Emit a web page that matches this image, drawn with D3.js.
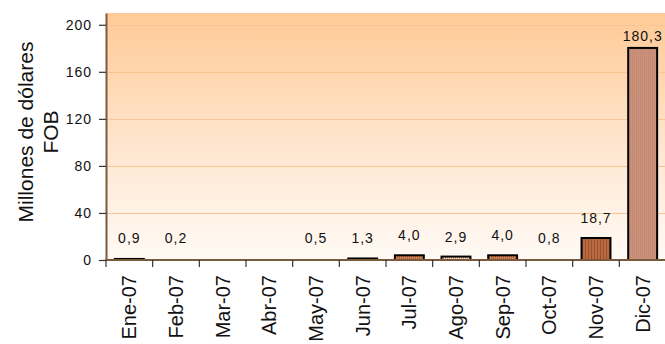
<!DOCTYPE html>
<html>
<head>
<meta charset="utf-8">
<script src="https://cdn.jsdelivr.net/npm/d3@7"></script>
<style>
  html, body { margin: 0; padding: 0; background: #fff; }
  svg { display: block; font-family: "Liberation Sans", Arial, sans-serif; }
</style>
</head>
<body>
<div id="chart"></div>
<script>
// Exportaciones mensuales 2007 (millones de dólares FOB)
const months = ['Ene-07', 'Feb-07', 'Mar-07', 'Abr-07', 'May-07', 'Jun-07',
                'Jul-07', 'Ago-07', 'Sep-07', 'Oct-07', 'Nov-07', 'Dic-07'];
const values = [0.9, 0.2, null, null, 0.5, 1.3, 4.0, 2.9, 4.0, 0.8, 18.7, 180.3];
const yTicks = [0, 40, 80, 120, 160, 200];
const yTitle = ['Millones de dólares', 'FOB'];

// relleno de cada barra (estilo)
const barFills = ['#000', '#000', null, null, '#000', '#000',
                  'url(#pJul)', 'url(#pAgo)', 'url(#pJul)', '#000', 'url(#pNov)', 'url(#pDic)'];
const hasBorder = [true, false, false, false, false, true, true, true, true, false, true, true];

const W = 665, H = 344;
const plot = { left: 106, right: 666, top: 13, bottom: 260 };

const esFmt = d3.formatLocale({ decimal: ',', thousands: '.', grouping: [3], currency: ['', ''] }).format('.1f');

const svg = d3.select('#chart').append('svg')
    .attr('width', W)
    .attr('height', H);

const defs = svg.append('defs');
const grad = defs.append('linearGradient')
    .attr('id', 'bg').attr('x1', 0).attr('y1', 0).attr('x2', 0).attr('y2', 1);
grad.append('stop').attr('offset', '0%').attr('stop-color', '#ffca96');
grad.append('stop').attr('offset', '55%').attr('stop-color', '#ffe6d0');
grad.append('stop').attr('offset', '100%').attr('stop-color', '#fffaf5');

function stripes(id, base, line, w) {
    const p = defs.append('pattern')
        .attr('id', id).attr('patternUnits', 'userSpaceOnUse')
        .attr('width', w).attr('height', 3);
    p.append('rect').attr('width', w).attr('height', 3).attr('fill', base);
    p.append('rect').attr('width', 1).attr('height', 3).attr('fill', line);
}
stripes('pJul', '#b65f36', '#d98a5e', 2);
stripes('pAgo', '#d99a78', '#fbe6d8', 2);
stripes('pNov', '#bb6a40', '#9c5130', 3);
stripes('pDic', '#cb927b', '#c48a74', 2);

const x = d3.scaleBand().domain(months).range([plot.left, plot.right]).padding(0);
const y = d3.scaleLinear().domain([0, 210]).range([plot.bottom, plot.top]);
const barW = x.bandwidth() * 0.62;

// fondo degradado
svg.append('rect')
    .attr('x', plot.left).attr('y', plot.top)
    .attr('width', plot.right - plot.left).attr('height', plot.bottom - plot.top)
    .attr('fill', 'url(#bg)');

// líneas de cuadrícula
svg.append('g').selectAll('line')
    .data(yTicks.filter(d => d > 0))
    .join('line')
    .attr('x1', plot.left).attr('x2', plot.right)
    .attr('y1', d => Math.round(y(d)) + 0.5).attr('y2', d => Math.round(y(d)) + 0.5)
    .attr('stroke', '#f6c792').attr('stroke-width', 1);

// barras
const data = months.map((m, i) => ({ m, v: values[i], fill: barFills[i], border: hasBorder[i] }))
    .filter(d => d.v !== null);

svg.append('g').selectAll('rect')
    .data(data)
    .join('rect')
    .attr('x', d => x(d.m) + (x.bandwidth() - barW) / 2)
    .attr('y', d => y(d.v))
    .attr('width', barW)
    .attr('height', d => y(0) - y(d.v))
    .attr('fill', d => d.fill)
    .attr('stroke', d => d.border ? '#000' : 'none')
    .attr('stroke-width', 2);

// etiquetas de valores
svg.append('g').selectAll('text')
    .data(data)
    .join('text')
    .attr('x', d => x(d.m) + x.bandwidth() / 2)
    .attr('y', d => {
        const top = y(d.v);
        return top < 60 ? top - 7 : Math.min(top - 15, 243);
    })
    .attr('text-anchor', 'middle')
    .style('font-size', '14px')
    .style('letter-spacing', '1px')
    .style('fill', '#111')
    .text(d => esFmt(d.v));

// eje Y
const yAxis = svg.append('g')
    .attr('transform', `translate(${plot.left},0)`)
    .call(d3.axisLeft(y).tickValues(yTicks).tickSize(7).tickPadding(7).tickSizeOuter(0));
yAxis.select('.domain').attr('stroke', '#7a5a3c').attr('stroke-width', 2);
yAxis.selectAll('.tick line').attr('stroke', '#333').attr('stroke-width', 1.2);
yAxis.selectAll('.tick text')
    .style('font-size', '14px')
    .style('letter-spacing', '1px')
    .style('font-family', '"Liberation Sans", Arial, sans-serif')
    .style('fill', '#111');

// eje X: línea base, marcas en los límites de categoría y etiquetas giradas
svg.append('line')
    .attr('x1', plot.left - 1).attr('x2', plot.right)
    .attr('y1', y(0)).attr('y2', y(0))
    .attr('stroke', '#7a5a3c').attr('stroke-width', 2);

const bounds = months.map(m => x(m)).concat([plot.right]);
svg.append('g').selectAll('line')
    .data(bounds)
    .join('line')
    .attr('x1', d => d).attr('x2', d => d)
    .attr('y1', y(0)).attr('y2', y(0) + 7)
    .attr('stroke', '#333').attr('stroke-width', 1.2);

svg.append('g').selectAll('text')
    .data(months)
    .join('text')
    .attr('transform', d => `translate(${x(d) + x.bandwidth() / 2 + 7},${y(0) + 15}) rotate(-90)`)
    .attr('text-anchor', 'end')
    .style('font-size', '20px')
    .style('fill', '#111')
    .text(d => d);

// título eje Y
svg.append('g').selectAll('text')
    .data(yTitle)
    .join('text')
    .attr('transform', (d, i) => `translate(${33 + i * 25},132) rotate(-90)`)
    .attr('text-anchor', 'middle')
    .style('font-size', '21px')
    .style('fill', '#111')
    .text(d => d);
</script>
</body>
</html>
